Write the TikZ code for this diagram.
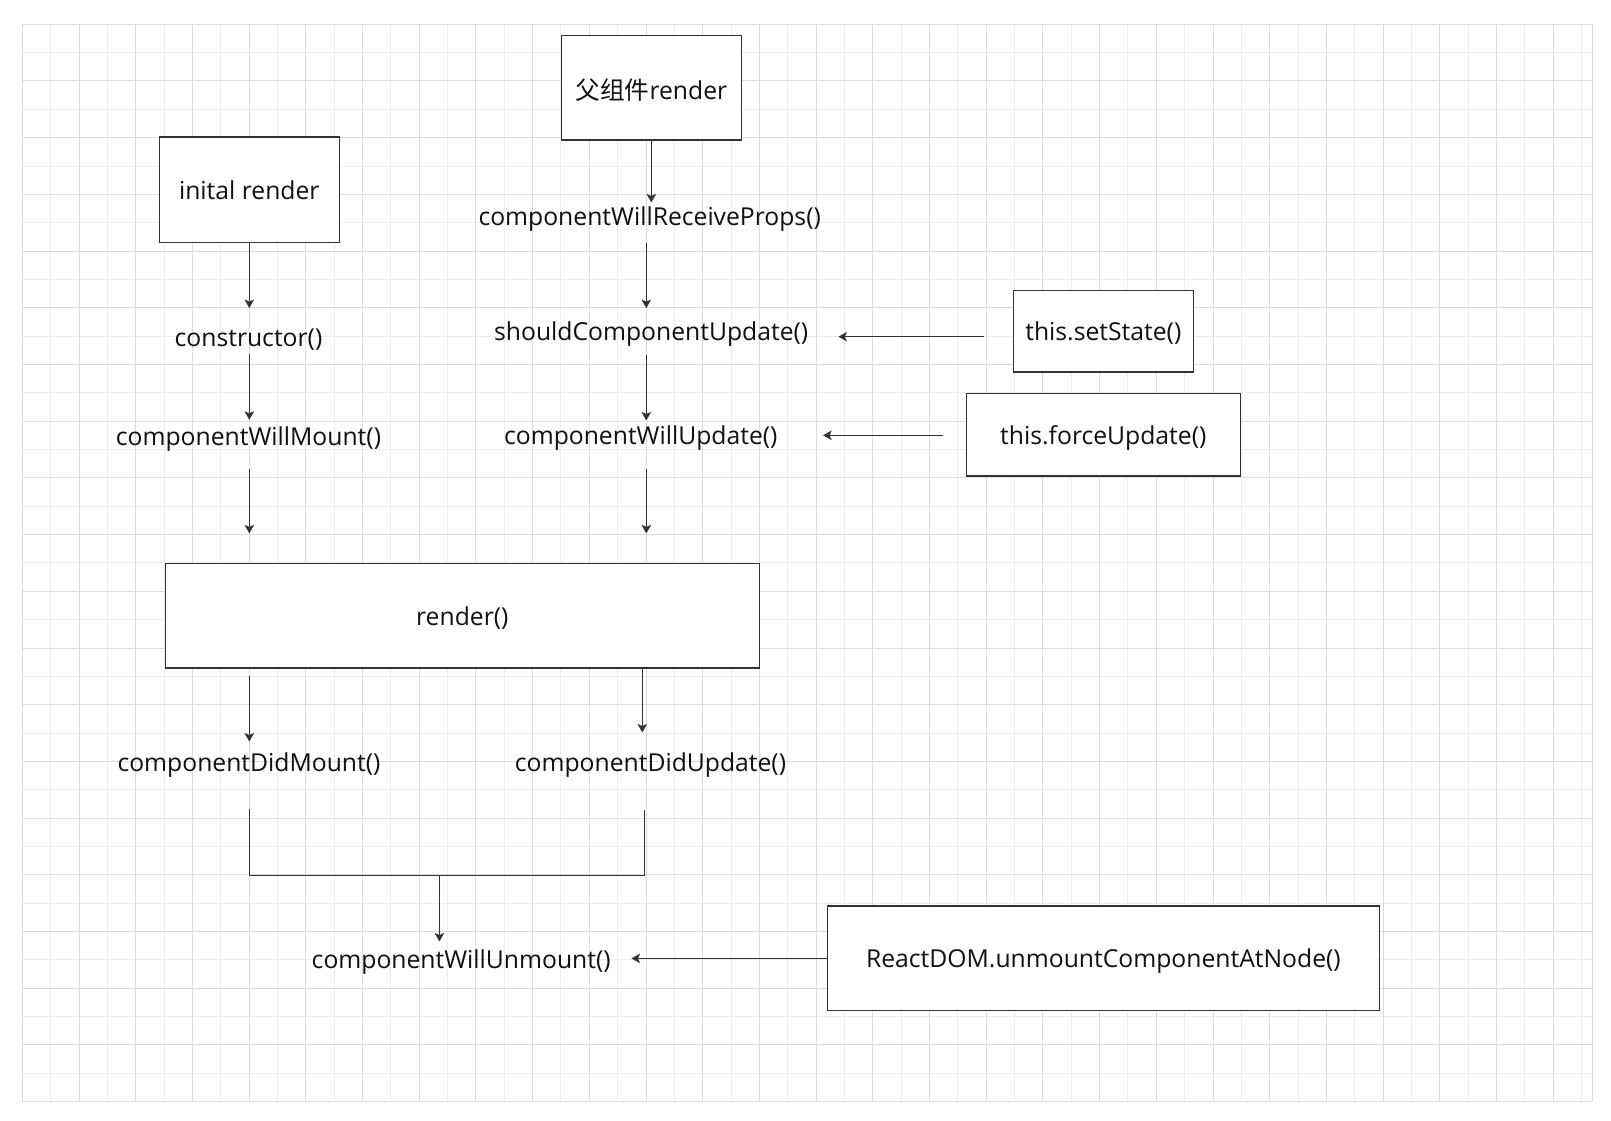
\documentclass[tikz,border=0pt]{standalone}
\usepackage{fontspec}
\setmainfont{Open Sans}
\newfontfamily\cjk{Noto Sans CJK SC}
\usetikzlibrary{arrows.meta}
\definecolor{linec}{HTML}{333333}
\definecolor{gridmaj}{HTML}{DCDCDC}
\definecolor{gridmin}{HTML}{EDEDED}
\definecolor{txt}{HTML}{111111}
\begin{document}
\begin{tikzpicture}[x=1pt,y=-1pt,
  font=\fontsize{24.7}{30}\selectfont,
  box/.style={draw=linec, line width=1.3pt, fill=white, inner sep=0pt, text=txt, text height=24pt, text depth=5pt},
  lbl/.style={inner sep=0pt, text=txt, anchor=base},
  conn/.style={draw=linec, line width=1.3pt},
  arr/.style={conn, -{Stealth[length=8.5pt,width=9.5pt,inset=2pt]}}]
\useasboundingbox (0,0) rectangle (1611,1121);
\fill[white] (0,0) rectangle (1611,1121);
% grid
\foreach \k in {1,3,...,55} \draw[gridmin, line width=1pt] ({22.3+28.35*\k},24.3) -- ({22.3+28.35*\k},1101);
\foreach \k in {1,3,...,37} \draw[gridmin, line width=1pt] (22.3,{24.3+28.35*\k}) -- (1592.3,{24.3+28.35*\k});
\foreach \k in {0,2,...,54} \draw[gridmaj, line width=1pt] ({22.3+28.35*\k},24.3) -- ({22.3+28.35*\k},1101);
\foreach \k in {0,2,...,38} \draw[gridmaj, line width=1pt] (22.3,{24.3+28.35*\k}) -- (1592.3,{24.3+28.35*\k});
\draw[gridmaj, line width=1pt] (22.3,24.3) rectangle (1592.3,1101);

% boxes
\node[box, minimum width=180pt, minimum height=104.7pt, text height=26pt, text depth=3pt] (parent) at (651.3,87.7) {{\cjk 父组件}render};
\node[box, minimum width=180pt, minimum height=105.3pt] (init) at (249.3,189.7) {inital render};
\node[box, minimum width=180pt, minimum height=81.3pt] (ss) at (1103.3,331.3) {this.setState()};
\node[box, minimum width=274pt, minimum height=82.3pt] (fu) at (1103.3,434.8) {this.forceUpdate()};
\node[box, minimum width=594pt, minimum height=104.7pt] (render) at (462.3,615.7) {render()};
\node[box, minimum width=552pt, minimum height=104.7pt] (rdom) at (1103.4,958.4) {ReactDOM.unmountComponentAtNode()};

% labels
\node[lbl, text height=38pt, text depth=7.7pt] (cons) at (248.5,346.3) {constructor()};
\node[lbl, text height=25.8pt, text depth=22.5pt] (cwm) at (248.5,445.8) {componentWillMount()};
\node[lbl, text height=23.1pt, text depth=16.5pt] (crp) at (649.7,225.8) {componentWillReceiveProps()};
\node[lbl, text height=32pt, text depth=14pt] (scu) at (651.2,340.3) {shouldComponentUpdate()};
\node[lbl, text height=23.9pt, text depth=23.7pt] (cwu) at (640.8,444.6) {componentWillUpdate()};
\node[lbl, text height=29.3pt, text depth=37.3pt] (cdm) at (249,771) {componentDidMount()};
\node[lbl, text height=38.6pt, text depth=38.7pt] (cdu) at (650.5,771.3) {componentDidUpdate()};
\node[lbl, text height=26.3pt, text depth=8pt] (cwun) at (461.2,968) {componentWillUnmount()};

% helper coordinates
\coordinate (lcol) at (249.3,0);
\coordinate (mcol) at (646.3,0);
\coordinate (rcol) at (644.4,0);
\coordinate (duc) at (642.3,0);
\coordinate (join) at (439.4,875.3);
\coordinate (ya) at (0,336.7);
\coordinate (yb) at (0,435.3);

% left column
\draw[arr] (init.south) -- (init.south |- cons.north);
\draw[arr] (cons.south -| lcol) -- (cwm.north -| lcol);
\draw[arr, shorten >=29.3pt] (cwm.south -| lcol) -- (render.north -| lcol);
\draw[arr, shorten <=7pt] (render.south -| lcol) -- (cdm.north -| lcol);
% middle column
\draw[arr] (parent.south) -- (parent.south |- crp.north);
\draw[arr] (crp.south -| mcol) -- (scu.north -| mcol);
\draw[arr] (scu.south -| mcol) -- (cwu.north -| mcol);
\draw[arr, shorten >=29.3pt] (cwu.south -| mcol) -- (render.north -| mcol);
\draw[arr] (render.south -| duc) -- (cdu.north -| duc);
% merge
\draw[conn] (cdm.south -| lcol) |- (join) -| (cdu.south -| rcol);
\draw[arr] (join) -- (join |- cwun.north);
% side inputs
\draw[arr, shorten <=28.3pt, shorten >=30pt] (ss.west |- ya) -- (scu.east |- ya);
\draw[arr, shorten <=23pt, shorten >=45.4pt] (fu.west |- yb) -- (cwu.east |- yb);
\draw[arr, shorten >=20.6pt] (rdom.west) -- (cwun.east |- rdom.west);
\end{tikzpicture}
\end{document}
